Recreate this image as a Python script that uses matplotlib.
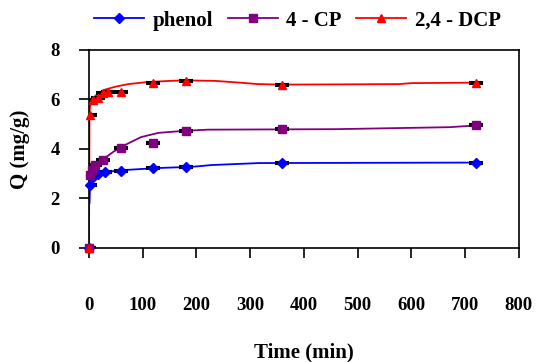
import numpy as np
import matplotlib.pyplot as plt

# measured points
t_phenol = [0, 2, 8, 16, 30, 60, 120, 180, 360, 720]
q_phenol = [0, 2.55, 2.85, 2.98, 3.05, 3.12, 3.23, 3.28, 3.43, 3.45]
t_cp = [0, 2, 5, 12, 26, 60, 120, 180, 360, 720]
q_cp = [0, 2.95, 3.15, 3.35, 3.55, 4.05, 4.25, 4.72, 4.8, 4.97]
t_dcp = [0, 2, 8, 17, 26, 35, 60, 120, 180, 360, 720]
q_dcp = [0, 5.37, 5.98, 6.06, 6.25, 6.3, 6.3, 6.65, 6.75, 6.58, 6.65]

# fitted curves
tf_phenol = [1, 2, 6, 30, 67, 128, 193, 228, 316, 720]
qf_phenol = [1.82, 2.6, 2.95, 3.07, 3.15, 3.23, 3.28, 3.35, 3.43, 3.45]
tf_cp = [1, 4, 15, 30, 45, 60, 80, 97, 129, 176, 222, 460, 671, 720]
qf_cp = [2.9, 3.07, 3.35, 3.64, 3.88, 4.08, 4.3, 4.48, 4.65, 4.73, 4.78, 4.8, 4.88, 4.95]
tf_dcp = [0, 1, 3, 10, 17, 30, 50, 73, 107, 150, 180, 235, 280, 315, 360, 577, 600, 720]
qf_dcp = [0, 5.5, 5.95, 6.1, 6.25, 6.4, 6.52, 6.62, 6.7, 6.75, 6.77, 6.75, 6.68, 6.62, 6.6, 6.62, 6.66, 6.68]

labels = ['phenol', '4 - CP', '2,4 - DCP']
colors = ['#0000ff', '#800080', '#ff0000']
markers = ['D', 's', '^']

plt.rcParams['font.family'] = 'Liberation Serif'
plt.rcParams['font.weight'] = 'bold'

fig = plt.figure(figsize=(5.36, 3.62), dpi=100)
ax = fig.add_axes([0.166, 0.315, 0.802, 0.547])

data = [(t_phenol, q_phenol, tf_phenol, qf_phenol),
        (t_cp, q_cp, tf_cp, qf_cp),
        (t_dcp, q_dcp, tf_dcp, qf_dcp)]
handles = []
for (t, q, tf, qf), lab, c, m in zip(data, labels, colors, markers):
    ax.plot(tf, qf, color=c, lw=1.3, zorder=2)
    ax.errorbar(t, q, yerr=0.04, fmt='none', ecolor='black', capsize=5,
                elinewidth=1, capthick=1.5, zorder=3)
    ms = 5 if m == 'D' else 6
    ax.plot(t, q, ls='none', marker=m, color=c, ms=ms, zorder=4, clip_on=False)
    h, = ax.plot([], [], color=c, marker=m, ms=ms, lw=1.3, label=lab)
    handles.append(h)

ax.set_xlim(0, 800)
ax.set_ylim(0, 8)
ax.set_xticks(range(0, 801, 100))
ax.set_yticks(range(0, 9, 2))
ax.tick_params(axis='both', direction='out', length=7, width=1.2, labelsize=13.5)
ax.tick_params(axis='x', pad=28)
ax.tick_params(axis='y', pad=14)
for s in ax.spines.values():
    s.set_linewidth(1.2)
ax.set_xlabel('Time (min)', fontsize=15, fontweight='bold', labelpad=21)
ax.set_ylabel('Q (mg/g)', fontsize=15, fontweight='bold', labelpad=15)

ax.legend(handles=handles, loc='lower center', bbox_to_anchor=(0.485, 1.045),
          ncol=3, frameon=False, fontsize=15, handlelength=2.4,
          columnspacing=0.7, handletextpad=0.4, borderpad=0)

fig.savefig('out.png', dpi=100)
